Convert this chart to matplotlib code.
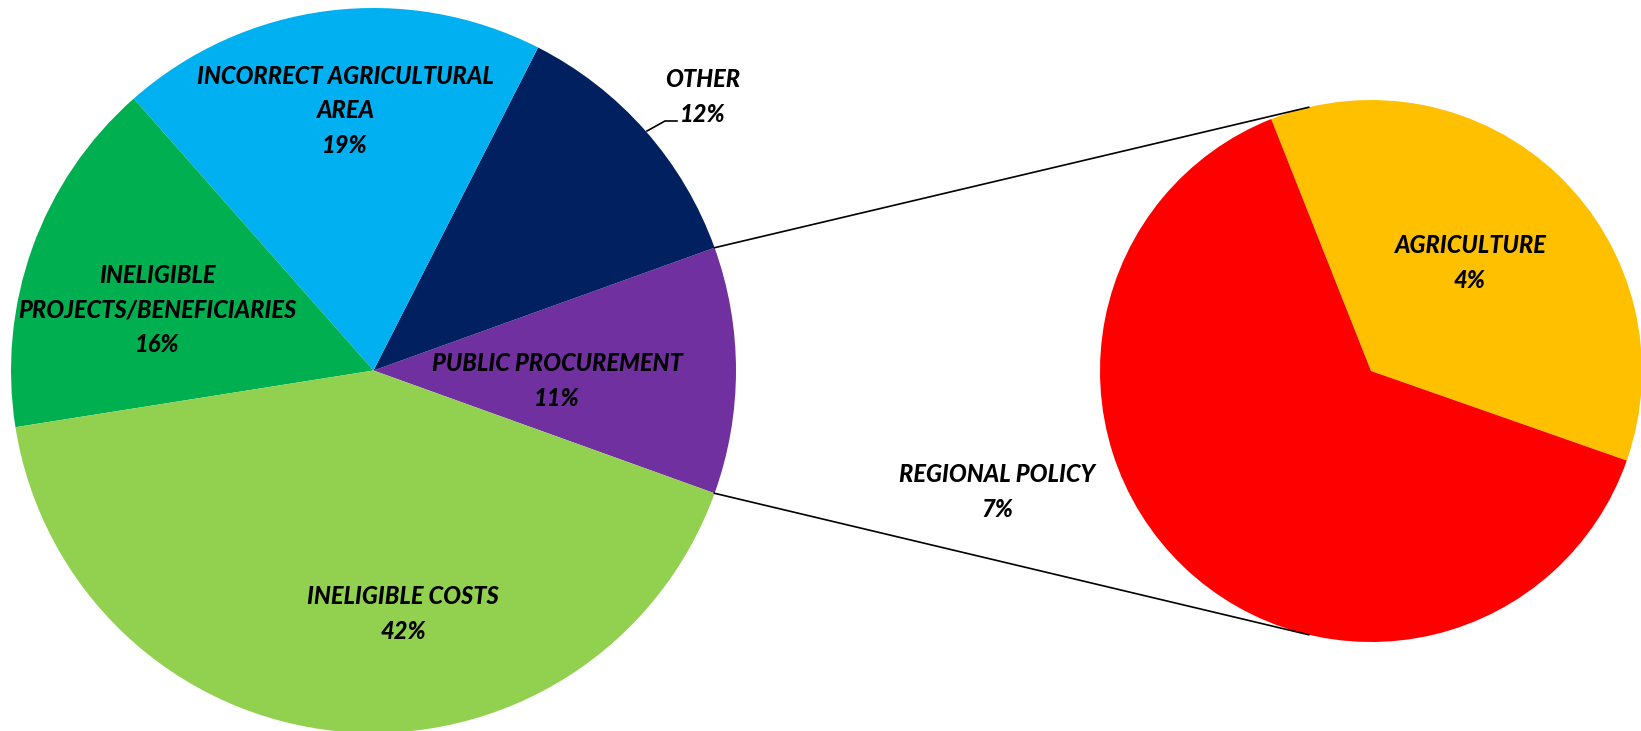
import numpy as np
import matplotlib
matplotlib.use("Agg")
import matplotlib.pyplot as plt

# main pie (percent of total)
main_labels = ["PUBLIC PROCUREMENT", "OTHER", "INCORRECT AGRICULTURAL\nAREA",
               "INELIGIBLE\nPROJECTS/BENEFICIARIES", "INELIGIBLE COSTS"]
main_values = [11, 12, 19, 16, 42]
main_colors = ["#7030A0", "#002060", "#00B0F0", "#00B050", "#92D050"]

# breakdown of public procurement
sub_labels = ["AGRICULTURE", "REGIONAL POLICY"]
sub_values = [4, 7]
sub_colors = ["#FFC000", "#FF0000"]

W, H = 1641, 731


def fy(y):
    # image row -> data y
    return H - y


fig = plt.figure(figsize=(W / 100, H / 100), dpi=100)
ax = fig.add_axes([0, 0, 1, 1])

c1 = (373.5, fy(370.5))
r1 = 362.5
c2 = (1371, fy(371))
r2 = 271

half = main_values[0] / sum(main_values) * 360 / 2
ax.pie(main_values, colors=main_colors, startangle=-half, counterclock=True,
       center=c1, radius=r1, wedgeprops=dict(linewidth=0))

sub_start = -19.3
ax.pie(sub_values, colors=sub_colors, startangle=sub_start, counterclock=True,
       center=c2, radius=r2, wedgeprops=dict(linewidth=0))

# connector lines
for sgn in (1, -1):
    a1 = np.deg2rad(sgn * half)
    a2 = np.deg2rad(sgn * 103.3)
    ax.plot([c1[0] + r1 * np.cos(a1), c2[0] + r2 * np.cos(a2)],
            [c1[1] + r1 * np.sin(a1), c2[1] + r2 * np.sin(a2)],
            color="black", lw=1.2)

# leader line for OTHER
ax.plot([647, 665, 677], [fy(131), fy(121), fy(121)], color="black", lw=1.2)

font = dict(family="Lato", style="italic", weight=900, fontsize=17,
            color="black", ha="center", va="center", linespacing=1.6)

main_pos = [(557, 381), (703, 97), (345, 111), (157, 310), (403, 614)]
for lab, val, (x, y) in zip(main_labels, main_values, main_pos):
    ax.text(x, fy(y), f"{lab}\n{val}%", **font)

sub_pos = [(1470, 263), (997, 492)]
for lab, val, (x, y) in zip(sub_labels, sub_values, sub_pos):
    ax.text(x, fy(y), f"{lab}\n{val}%", **font)

ax.set_xlim(0, W)
ax.set_ylim(0, H)
ax.set_aspect("equal")
ax.axis("off")

fig.savefig("out.png", dpi=100, facecolor="white")
